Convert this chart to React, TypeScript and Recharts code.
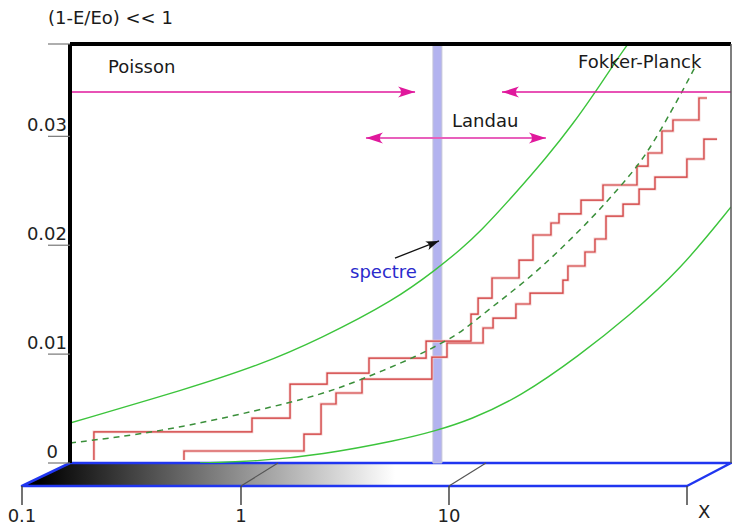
import React from 'react';
import {
  ComposedChart,
  Line,
  XAxis,
  YAxis,
  ReferenceArea,
  ReferenceLine
} from 'recharts';

// x is plotted as lgX = log10(X); y is (1 - E/Eo)
const X_MIN = -1;
const X_MAX = 2.178;
const Y_TOP = 0.03848;

const yTicks = [0, 0.01, 0.02, 0.03, Y_TOP];
const yTickLabels = ['0', '0.01', '0.02', '0.03', ''];
const xTicks = [-1, 0, 1, X_MAX];
const xTickLabels = ['0.1', '1', '10', 'X'];

const upperSteps = [
  [-0.885, 0.00028], [-0.885, 0.00285], [-0.125, 0.00413], [0.058, 0.00725],
  [0.236, 0.00826], [0.4375, 0.00964], [0.712, 0.0112], [0.928, 0.01368],
  [0.962, 0.01515], [1.029, 0.01699], [1.159, 0.01864], [1.226, 0.02094],
  [1.3125, 0.02204], [1.351, 0.02287], [1.457, 0.02415], [1.5625, 0.02553],
  [1.726, 0.02727], [1.779, 0.02847], [1.846, 0.03049], [1.899, 0.0315],
  [2.024, 0.03352], [2.0625, 0.03352]
];

const lowerSteps = [
  [-0.452, 0.00028], [-0.452, 0.0011], [0.125, 0.00266], [0.207, 0.00542],
  [0.279, 0.00643], [0.404, 0.00771], [0.74, 0.00973], [0.8125, 0.01102],
  [0.986, 0.0124], [1.034, 0.01331], [1.144, 0.0146], [1.212, 0.01561],
  [1.37, 0.0168], [1.394, 0.01809], [1.476, 0.01938], [1.524, 0.02057],
  [1.577, 0.02268], [1.659, 0.02378], [1.736, 0.02516], [1.8125, 0.02626],
  [1.966, 0.02792], [2.048, 0.02975], [2.111, 0.02975]
];

const upperBound = [
  [-1, 0.00367], [-0.4375, 0.0068], [-0.0865, 0.009], [0.202, 0.01139],
  [0.5625, 0.01497], [0.769, 0.01791], [0.875, 0.01956], [0.971, 0.02121],
  [1.13, 0.02452], [1.293, 0.0281], [1.418, 0.03113], [1.529, 0.03416],
  [1.654, 0.03774], [1.683, 0.03848]
];

const lowerBound = [
  [-0.375, 0], [-0.0865, 0.00018], [0.202, 0.00073], [0.5865, 0.00211],
  [0.755, 0.00294], [0.923, 0.00395], [1.163, 0.00606], [1.452, 0.00992],
  [1.692, 0.01359], [1.933, 0.01772], [2.178, 0.02351]
];

const meanCurve = [
  [-1, 0.00184], [-0.567, 0.00285], [-0.0865, 0.00487], [0.202, 0.00624],
  [0.409, 0.00771], [0.683, 0.00992], [0.8125, 0.0113], [0.875, 0.01194],
  [1.029, 0.01433], [1.197, 0.0168], [1.356, 0.01956], [1.514, 0.02259],
  [1.644, 0.02534], [1.74, 0.02755], [1.8125, 0.02966], [1.894, 0.03242],
  [1.947, 0.03425], [2.005, 0.03636]
];

// arrows: [lgX, y, head?]
const poissonArrow = [[-1, 0.03407, 0], [0.659, 0.03407, 1]];
const fokkerArrow = [[X_MAX, 0.03407, 0], [1.077, 0.03407, 1]];
const landauArrow = [[0.423, 0.02984, 1], [1.288, 0.02984, 1]];
const spectreArrow = [[0.5625, 0.01882, 0], [0.774, 0.02039, 1]];

const spectreBand = [0.745, 0.788];

const toRows = (arr: number[][]) =>
  arr.map(([lgX, v, head]) => ({ lgX, v, head: !!head }));

const FONT = '"DejaVu Sans", Verdana, sans-serif';
const MAGENTA = '#e0189c';

const arrowDot = (color: string, len: number, half: number) => (props: any) => {
  const { cx, cy, index, payload, points } = props;
  const key = `ah-${index}`;
  if (!payload || !payload.head || !points) return <g key={key} />;
  const other = points[index === 0 ? 1 : index - 1];
  const ang = (Math.atan2(cy - other.y, cx - other.x) * 180) / Math.PI;
  return (
    <path
      key={key}
      d={`M0,0 L${-len},${-half} Q${-len * 0.62},0 ${-len},${half} Z`}
      transform={`translate(${cx},${cy}) rotate(${ang})`}
      fill={color}
    />
  );
};

const YTick = (props: any) => {
  const { y, index } = props;
  const label = yTickLabels[index];
  return (
    <g>
      <line x1={48} y1={y} x2={70} y2={y} stroke="#777" strokeWidth={1.2} />
      <text
        x={label === '0' ? 58 : 67}
        y={y - 5}
        textAnchor="end"
        fontFamily={FONT}
        fontSize={18}
        fill="#222"
      >
        {label}
      </text>
    </g>
  );
};

const XTick = (props: any) => {
  const { x, y, index } = props;
  const last = index === xTicks.length - 1;
  const shear = index === 0 ? 48 : last ? 44 : 37;
  const fx = x - shear;
  const front = y + 23;
  return (
    <g>
      {index > 0 && !last && (
        <line x1={x} y1={y} x2={fx} y2={front} stroke="#555" strokeWidth={1.2} />
      )}
      <line x1={fx} y1={front} x2={fx} y2={front + 19} stroke="#444" strokeWidth={1.5} />
      <text
        x={last ? fx + 11 : fx}
        y={last ? y + 55 : y + 59}
        textAnchor={last ? 'start' : 'middle'}
        fontFamily={FONT}
        fontSize={18}
        fill="#222"
      >
        {xTickLabels[index]}
      </text>
    </g>
  );
};

export default function App() {
  return (
    <div style={{ position: 'absolute', left: 0, top: 0, width: 732, height: 525, background: '#fff' }}>
      {/* perspective floor under the plot */}
      <svg width={732} height={525} style={{ position: 'absolute', left: 0, top: 0 }}>
        <defs>
          <linearGradient id="floorGrad" gradientUnits="userSpaceOnUse" x1="40" y1="0" x2="395" y2="0">
            <stop offset="0" stopColor="#000" />
            <stop offset="1" stopColor="#fff" />
          </linearGradient>
        </defs>
        <polygon
          points="22,486 687,486 731,463 70,463"
          fill="url(#floorGrad)"
          stroke="#2036f0"
          strokeWidth={2.5}
          strokeLinejoin="round"
        />
      </svg>

      <div style={{ position: 'absolute', left: 0, top: 0 }}>
        <ComposedChart width={732} height={525} margin={{ top: 44, right: 1, bottom: 0, left: 0 }}>
          <XAxis
            type="number"
            dataKey="lgX"
            domain={[X_MIN, X_MAX]}
            ticks={xTicks}
            interval={0}
            height={62}
            axisLine={false}
            tickLine={false}
            tickSize={0}
            tickMargin={0}
            tick={(p: any) => <XTick {...p} />}
            allowDataOverflow
          />
          <YAxis
            type="number"
            domain={[0, Y_TOP]}
            ticks={yTicks}
            interval={0}
            width={70}
            axisLine={false}
            tickLine={false}
            tickSize={0}
            tickMargin={0}
            tick={(p: any) => <YTick {...p} />}
            allowDataOverflow
          />

          <ReferenceArea
            x1={spectreBand[0]}
            x2={spectreBand[1]}
            y1={0}
            y2={Y_TOP}
            fill="#b3b3ef"
            fillOpacity={1}
            stroke="#c4c4d8"
            strokeWidth={1}
          />

          <Line data={toRows(upperSteps)} dataKey="v" type="stepAfter" stroke="#f4cccc" strokeWidth={2.8} dot={false} activeDot={false} isAnimationActive={false} />
          <Line data={toRows(lowerSteps)} dataKey="v" type="stepAfter" stroke="#f4cccc" strokeWidth={2.8} dot={false} activeDot={false} isAnimationActive={false} />
          <Line data={toRows(upperSteps)} dataKey="v" type="stepAfter" stroke="#d03a3a" strokeWidth={1.2} dot={false} activeDot={false} isAnimationActive={false} />
          <Line data={toRows(lowerSteps)} dataKey="v" type="stepAfter" stroke="#d03a3a" strokeWidth={1.2} dot={false} activeDot={false} isAnimationActive={false} />

          <Line data={toRows(upperBound)} dataKey="v" type="basis" stroke="#3cc43c" strokeWidth={1.4} dot={false} activeDot={false} isAnimationActive={false} />
          <Line data={toRows(lowerBound)} dataKey="v" type="basis" stroke="#3cc43c" strokeWidth={1.4} dot={false} activeDot={false} isAnimationActive={false} />
          <Line data={toRows(meanCurve)} dataKey="v" type="basis" stroke="#3a8f3a" strokeWidth={1.5} strokeDasharray="6 5" dot={false} activeDot={false} isAnimationActive={false} />

          <Line data={toRows(poissonArrow)} dataKey="v" type="linear" stroke={MAGENTA} strokeWidth={1.5} dot={arrowDot(MAGENTA, 17, 5.5)} activeDot={false} isAnimationActive={false} />
          <Line data={toRows(fokkerArrow)} dataKey="v" type="linear" stroke={MAGENTA} strokeWidth={1.5} dot={arrowDot(MAGENTA, 17, 5.5)} activeDot={false} isAnimationActive={false} />
          <Line data={toRows(landauArrow)} dataKey="v" type="linear" stroke="#e860bc" strokeWidth={2} dot={arrowDot(MAGENTA, 17, 5.5)} activeDot={false} isAnimationActive={false} />
          <Line data={toRows(spectreArrow)} dataKey="v" type="linear" stroke="#111" strokeWidth={1.3} dot={arrowDot('#111', 13, 4.5)} activeDot={false} isAnimationActive={false} />

          <ReferenceLine x={X_MIN} stroke="#000" strokeWidth={4} />
          <ReferenceLine y={Y_TOP} stroke="#000" strokeWidth={4} />
          <ReferenceLine x={X_MAX} stroke="#555" strokeWidth={1.5} />
        </ComposedChart>
      </div>

      {/* annotations */}
      <svg width={732} height={525} style={{ position: 'absolute', left: 0, top: 0, pointerEvents: 'none' }}>
        <g fontFamily={FONT} fontSize={18} fill="#1a1a1a">
          <text x={48} y={24}>(1-E/Eo) &lt;&lt; 1</text>
          <text x={108} y={73}>Poisson</text>
          <text x={578} y={68}>Fokker-Planck</text>
          <text x={452} y={127}>Landau</text>
          <text x={350} y={278} fill="#2a2acc">spectre</text>
        </g>
      </svg>
    </div>
  );
}
